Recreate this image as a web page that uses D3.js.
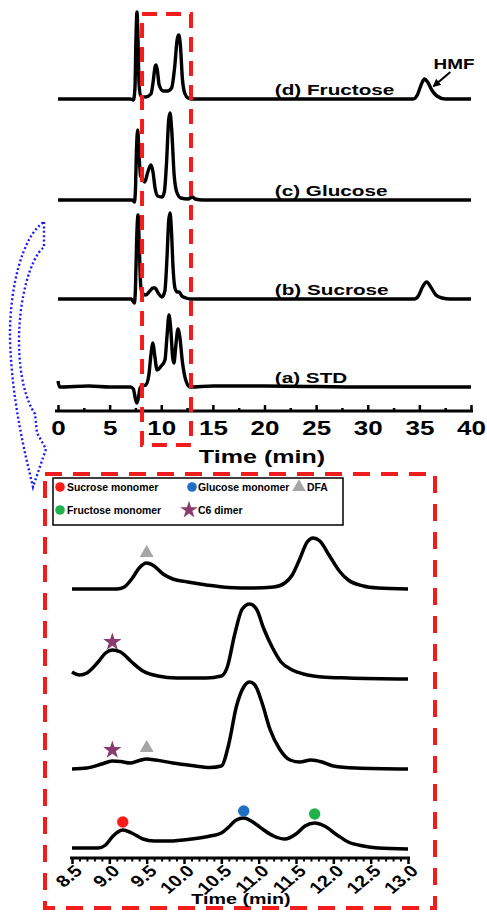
<!DOCTYPE html>
<html><head><meta charset="utf-8">
<script src="https://cdn.jsdelivr.net/npm/d3@7"></script>
<style>body{margin:0;background:#fff}svg{display:block}</style>
</head><body>
<script>
// ---------- DATA ----------
// Full chromatograms, time (min) vs. relative intensity
const fullSTD = [[0,6],[0.15,0],[3,1],[5,0],[7.0,0],[7.3,-2],[7.5,-12],[7.65,-16],[7.8,-10],[7.95,-1],[8.15,1],[8.5,2],[8.8,12],[9.0,32],[9.2,44],[9.35,33],[9.6,17],[10.0,21],[10.36,27],[10.55,50],[10.75,72],[10.92,58],[11.1,30],[11.23,24],[11.4,40],[11.62,58],[11.8,50],[12.05,25],[12.4,6],[12.78,0],[15,1],[20,1],[30,0],[40,0]];
const fullSucrose = [[0,0],[7.1,0],[7.4,-4],[7.5,10],[7.62,60],[7.75,84],[7.88,50],[8.0,15],[8.14,6],[8.5,4],[8.9,8],[9.2,11],[9.39,11],[9.7,6],[10.07,2],[10.35,8],[10.55,40],[10.72,78],[10.85,86],[10.98,70],[11.15,30],[11.35,10],[11.55,7],[11.72,7],[12.0,3],[12.4,1],[12.8,0],[34.5,0],[34.9,3],[35.3,12],[35.7,17],[36.1,12],[36.6,4],[37.2,1],[38,0],[40,0]];
const fullGlucose = [[0,0],[7.2,0],[7.4,-2],[7.5,10],[7.6,50],[7.72,70],[7.85,45],[8.0,24],[8.14,22],[8.4,18],[8.7,28],[9.0,35],[9.2,28],[9.4,12],[9.65,4],[10.07,3],[10.3,8],[10.5,35],[10.72,80],[10.85,87],[11.0,72],[11.25,25],[11.5,8],[11.9,2],[12.6,1],[13.0,3],[13.3,1],[14,0],[40,0]];
const fullFructose = [[0,0],[7.0,0],[7.3,-1],[7.45,10],[7.55,60],[7.65,87],[7.75,60],[7.85,15],[8.0,3],[8.5,2],[9.0,5],[9.2,16],[9.4,32],[9.5,34],[9.62,29],[9.8,14],[10.2,8],[10.6,8],[11.0,11],[11.3,32],[11.55,60],[11.7,64],[11.85,54],[12.05,20],[12.3,5],[12.6,1],[13,0],[34.4,0],[34.8,4],[35.2,15],[35.5,20],[35.8,17],[36.2,9],[36.7,3],[37.5,0],[40,0]];
const fullSeries = [fullSTD, fullSucrose, fullGlucose, fullFructose];
const fullLabels = ["(a) STD", "(b) Sucrose", "(c) Glucose", "(d) Fructose"];
const fullOffsets = [0, 88, 187, 288];
const fullTicks = [0, 5, 10, 15, 20, 25, 30, 35, 40];
const fullMinorTicks = [2.5, 7.5, 12.5, 17.5, 22.5, 27.5, 32.5, 37.5];
const zoomRange = [8.14, 12.88];

// Zoomed region 8.5 - 13.0 min
const zoomSTD = [[8.5,1],[8.85,1],[8.95,4],[9.05,13],[9.18,19],[9.3,16],[9.45,10],[9.6,8],[9.8,8],[10.1,10],[10.35,13],[10.5,16],[10.6,22],[10.7,29],[10.8,31],[10.9,28],[11.05,20],[11.2,13],[11.35,10],[11.5,15],[11.62,23],[11.75,26],[11.88,23],[12.05,14],[12.2,7],[12.4,3],[12.6,1],[13.0,0]];
const zoomSucrose = [[8.5,0],[8.7,1],[8.9,5],[9.04,8],[9.15,7.5],[9.28,6],[9.4,8.5],[9.5,10],[9.62,9],[9.85,6],[10.1,3.5],[10.35,1.5],[10.5,3],[10.6,25],[10.7,62],[10.8,82],[10.88,87],[10.95,84],[11.05,65],[11.15,40],[11.28,20],[11.42,9],[11.55,7],[11.7,9],[11.85,7],[12.0,3],[12.3,1],[13.0,0]];
const zoomGlucose = [[8.5,7],[8.6,4],[8.7,6],[8.85,17],[8.95,26],[9.04,29],[9.15,27],[9.3,17],[9.45,8],[9.65,3],[9.9,1],[10.3,1],[10.5,3],[10.58,12],[10.68,45],[10.78,70],[10.88,75],[10.97,70],[11.07,50],[11.18,32],[11.3,17],[11.45,9],[11.6,5],[11.85,2],[12.2,1],[13,0]];
const zoomFructose = [[8.5,0],[9.1,0],[9.2,2],[9.3,10],[9.4,21],[9.5,26],[9.6,23],[9.72,15],[9.85,10],[10.05,7],[10.3,4],[10.6,1.5],[10.9,1],[11.2,2],[11.35,6],[11.45,14],[11.55,30],[11.65,47],[11.73,51],[11.82,48],[11.95,33],[12.08,18],[12.2,9],[12.4,3],[12.6,1],[13.0,0]];
const zoomSeries = [zoomSTD, zoomSucrose, zoomGlucose, zoomFructose];
const zoomOffsets = [0, 80, 170, 260];
const zoomTicks = [8.5, 9.0, 9.5, 10.0, 10.5, 11.0, 11.5, 12.0, 12.5, 13.0];

// Peak markers: [series index, time, intensity, kind]
const peakMarkers = [
  [0, 9.18, 27, "Sucrose monomer"], [0, 10.8, 38, "Glucose monomer"], [0, 11.75, 35, "Fructose monomer"],
  [1, 9.04, 19, "C6 dimer"], [1, 9.5, 21, "DFA"],
  [2, 9.04, 37, "C6 dimer"],
  [3, 9.5, 36, "DFA"]
];
const legendNames = ["Sucrose monomer", "Glucose monomer", "DFA", "Fructose monomer", "C6 dimer"];
const legendColors = ["#ff1a1a", "#1f6fc4", "#a6a6a6", "#20b04c", "#8b3a6e"];
const legendShapes = ["circle", "circle", "triangle", "circle", "star"];

// ---------- DRAWING ----------
const W = 487, H = 912;
const FONT = "'Liberation Sans', Arial, sans-serif";
const svg = d3.select("body").append("svg").attr("width", W).attr("height", H);

function stext(g, x, y, str, size, anchor, sx) {
  return g.append("text").attr("transform", `translate(${x},${y}) scale(${sx},1)`)
    .attr("text-anchor", anchor).style("font", `bold ${size}px ${FONT}`).attr("fill", "#000").text(str);
}

// ----- Top chart -----
const xTop = d3.scaleLinear().domain([0, 40]).range([58, 471]);
const yTop = d3.scaleLinear().domain([0, 400]).range([387, -13]);
const topG = svg.append("g");
const lineTop = (off) => d3.line().x(d => xTop(d[0])).y(d => yTop(d[1] + off)).curve(d3.curveMonotoneX);

fullSeries.forEach((s, i) => {
  topG.append("path").attr("d", lineTop(fullOffsets[i])(s)).attr("fill", "none")
    .attr("stroke", "#000").attr("stroke-width", 3.4).attr("stroke-linejoin", "round");
  stext(topG, xTop(21), yTop(fullOffsets[i] + 4), fullLabels[i], 15, "start", 1.38);
});

// HMF annotation
const hmfTip = [36.4, fullOffsets[3] + 13], hmfTail = [38.0, fullOffsets[3] + 27];
svg.append("defs").append("marker").attr("id", "ah").attr("viewBox", "0 0 10 10")
  .attr("refX", 8).attr("refY", 5).attr("markerWidth", 4).attr("markerHeight", 4).attr("orient", "auto")
  .append("path").attr("d", "M0,0L10,5L0,10z").attr("fill", "#000");
topG.append("line").attr("x1", xTop(hmfTail[0])).attr("y1", yTop(hmfTail[1]))
  .attr("x2", xTop(hmfTip[0])).attr("y2", yTop(hmfTip[1]))
  .attr("stroke", "#000").attr("stroke-width", 2).attr("marker-end", "url(#ah)");
stext(topG, xTop(38.35), yTop(fullOffsets[3] + 30), "HMF", 14, "middle", 1.35);

// Top axis
const axG = topG.append("g").attr("transform", "translate(0,411)");
axG.call(d3.axisBottom(xTop).tickValues(fullTicks).tickSize(-6).tickSizeOuter(0).tickPadding(10).tickFormat(d3.format("d")));
axG.select(".domain").attr("stroke-width", 3).attr("d", `M${xTop(0)-3},0H${xTop(40)+2}`);
axG.selectAll(".tick line").attr("stroke-width", 2.5);
axG.selectAll(".tick text").style("font", `bold 20px ${FONT}`).attr("fill", "#000").attr("transform", "scale(1.3,1)");
const axM = topG.append("g").attr("transform", "translate(0,411)");
axM.call(d3.axisBottom(xTop).tickValues(fullMinorTicks).tickSize(-3).tickSizeOuter(0).tickFormat(""));
axM.select(".domain").remove();
axM.selectAll(".tick line").attr("stroke-width", 2.5);
stext(topG, 262, 463, "Time (min)", 19, "middle", 1.32);

// Red dashed highlight box
topG.append("rect").attr("x", xTop(zoomRange[0])).attr("y", 14)
  .attr("width", xTop(zoomRange[1]) - xTop(zoomRange[0])).attr("height", 431)
  .attr("fill", "none").attr("stroke", "#f21c1c").attr("stroke-width", 4).attr("stroke-dasharray", "15,9");

// Blue dotted curved arrow
svg.append("path")
  .attr("d", "M44,222 L44,247 C30,258 19,300 19,340 C19,378 27,402 35,414 L37,433 L46,449 L33,487 C24,450 12,400 10,340 C9,290 22,236 44,222 Z")
  .attr("fill", "none").attr("stroke", "#1a1aff").attr("stroke-width", 2.4).attr("stroke-dasharray", "2,2.4");

// ----- Zoomed chart -----
const xZ = d3.scaleLinear().domain([8.5, 13]).range([72, 408]);
const yZ = d3.scaleLinear().domain([0, 360]).range([849, 489]);
const bot = svg.append("g");
bot.append("rect").attr("x", 45).attr("y", 474).attr("width", 390).attr("height", 434)
  .attr("fill", "none").attr("stroke", "#f21c1c").attr("stroke-width", 4).attr("stroke-dasharray", "17,11");

const lineZ = (off) => d3.line().x(d => xZ(d[0])).y(d => yZ(d[1] + off)).curve(d3.curveMonotoneX);
zoomSeries.forEach((s, i) => {
  bot.append("path").attr("d", lineZ(zoomOffsets[i])(s)).attr("fill", "none")
    .attr("stroke", "#000").attr("stroke-width", 3.5).attr("stroke-linejoin", "round");
});

function drawSymbol(g, shape, color, x, y, size) {
  if (shape === "circle") g.append("circle").attr("cx", x).attr("cy", y).attr("r", size).attr("fill", color);
  else {
    const sym = shape === "star" ? d3.symbolStar : d3.symbolTriangle;
    const area = shape === "star" ? size * size * 3.2 : size * size * 2.6;
    g.append("path").attr("d", d3.symbol(sym, area)()).attr("transform", `translate(${x},${y})`).attr("fill", color);
  }
}
peakMarkers.forEach(m => {
  const k = legendNames.indexOf(m[3]);
  drawSymbol(bot, legendShapes[k], legendColors[k], xZ(m[1]), yZ(m[2] + zoomOffsets[m[0]]), 5.7);
});

// Zoom axis
const azG = bot.append("g").attr("transform", "translate(0,858)");
azG.call(d3.axisBottom(xZ).tickValues(zoomTicks).tickSize(6).tickSizeOuter(0).tickFormat(d3.format(".1f")));
azG.select(".domain").attr("stroke-width", 3).attr("d", `M${xZ(8.5)-2},0H${xZ(13)+2}`);
azG.selectAll(".tick line").attr("stroke-width", 2.5);
azG.selectAll(".tick text").style("font", `bold 16.5px ${FONT}`).attr("fill", "#000")
  .attr("text-anchor", "end").attr("x", 0).attr("y", 0).attr("dy", "0.35em")
  .attr("transform", "translate(6,10) scale(1.2,1) rotate(-45)");
const minorZ = d3.range(86, 130).map(v => v / 10).filter(v => Math.abs(v * 2 - Math.round(v * 2)) > 1e-6);
const azM = bot.append("g").attr("transform", "translate(0,858)");
azM.call(d3.axisBottom(xZ).tickValues(minorZ).tickSize(3.5).tickSizeOuter(0).tickFormat(""));
azM.select(".domain").remove();
azM.selectAll(".tick line").attr("stroke-width", 2);
stext(bot, 241, 904, "Time (min)", 14.5, "middle", 1.36);

// Legend
const leg = bot.append("g");
leg.append("rect").attr("x", 53).attr("y", 478).attr("width", 290).attr("height", 47)
  .attr("fill", "#fff").attr("stroke", "#000").attr("stroke-width", 1.5);
const legPos = [[60, 487], [192, 487], [299, 487], [60, 510], [189, 510]];
const legTextX = [67, 198, 307, 67, 198];
legendNames.forEach((n, i) => {
  drawSymbol(leg, legendShapes[i], legendColors[i], legPos[i][0], legPos[i][1], legendShapes[i] === "circle" ? 4.8 : 5.5);
  leg.append("text").attr("x", legTextX[i]).attr("y", legPos[i][1] + 4).style("font", `bold 10.4px ${FONT}`)
    .attr("fill", "#000").text(n);
});
</script>
</body></html>
